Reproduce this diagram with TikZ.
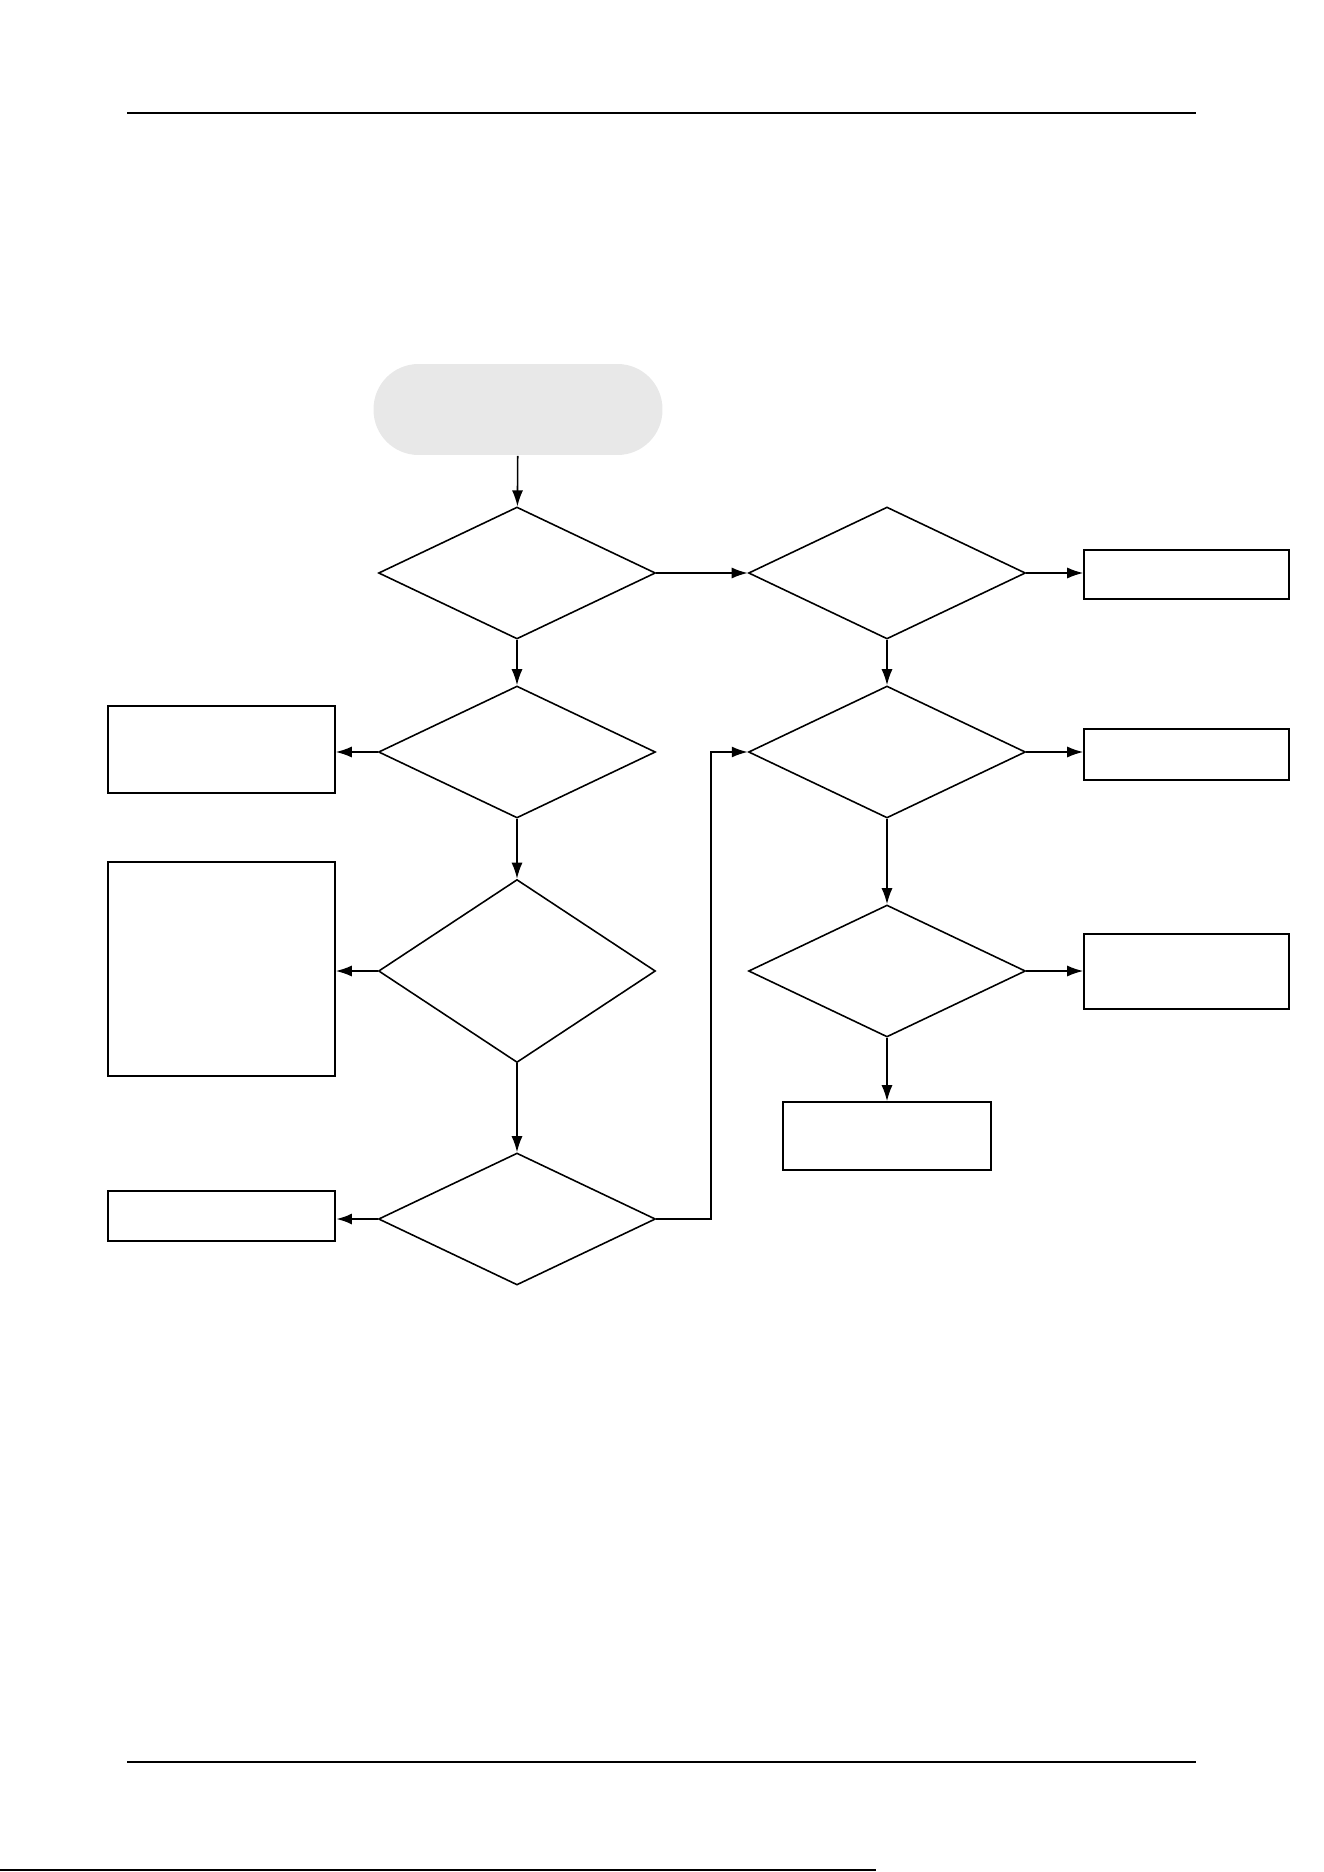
\documentclass[tikz,border=0pt]{standalone}
\usetikzlibrary{positioning,shapes.geometric,arrows.meta}
\definecolor{startgray}{RGB}{232,232,232}
\tikzstyle{decision}=[draw,diamond,inner sep=0pt,minimum width=5.54cm,minimum height=2.64cm]
\tikzstyle{block}=[draw,rectangle,inner sep=0pt]
\tikzstyle{terminal}=[fill=startgray,rectangle,rounded corners=0.9cm,inner sep=0pt]
\tikzstyle{rule}=[line width=1.5pt]
\newcommand{\newDecision}[3]{\node[decision,#3](#1) at (#2){};}
\newcommand{\newBlock}[4]{\node[block,minimum width=#3,minimum height=#4](#1) at (#2){};}
\newcommand{\newArrow}[2]{\draw[->] (#1) -- (#2);}
\newcommand{\newSideArrow}[3]{\draw[->,#3] (#1) -- (#1 -| #2);}
\begin{document}
\begin{tikzpicture}[x=0.02cm,y=-0.02cm,
      >={Latex[length=0.32cm,width=0.22cm]},
      line width=0.9pt
      ]
      \useasboundingbox (0,0) rectangle (1324,1872);
      % page rules
      \draw[rule] (127,113) -- (1196,113);
      \draw[rule] (127,1762) -- (1196,1762);
      \draw[line width=1.2pt] (0,1870) -- (876,1870);
      % start
      \node[terminal,minimum width=5.78cm,minimum height=1.82cm](start) at (518,409.5){};
      % left column
      \newDecision{d1}{517,573}{}
      \newDecision{d3}{517,752}{}
      \newDecision{d4}{517,971}{minimum height=3.66cm}
      \newDecision{d5}{517,1219}{}
      \newBlock{l1}{221.5,749.5}{4.54cm}{1.74cm}
      \newBlock{l2}{221.5,969}{4.54cm}{4.28cm}
      \newBlock{l3}{221.5,1216}{4.54cm}{1.0cm}
      % right column
      \newDecision{d2}{887,573}{}
      \newDecision{d6}{887,752}{}
      \newDecision{d7}{887,971}{}
      \newBlock{r1}{1186.5,574.5}{4.1cm}{0.98cm}
      \newBlock{r2}{1186.5,754.5}{4.1cm}{1.02cm}
      \newBlock{r3}{1186.5,971.5}{4.1cm}{1.5cm}
      \newBlock{b1}{887,1136}{4.16cm}{1.36cm}
      % arrows
      \newArrow{start}{d1}
      \newArrow{d1}{d2}
      \newSideArrow{d2.east}{r1.west}{}
      \newArrow{d1}{d3}
      \newSideArrow{d3.west}{l1.east}{}
      \newArrow{d3}{d4}
      \newSideArrow{d4.west}{l2.east}{}
      \newArrow{d4}{d5}
      \newSideArrow{d5.west}{l3.east}{line width=1.6pt}
      \newArrow{d2}{d6}
      \newSideArrow{d6.east}{r2.west}{}
      \newArrow{d6}{d7}
      \newSideArrow{d7.east}{r3.west}{}
      \newArrow{d7}{b1}
      \coordinate (turn) at (711,1219);
      \draw[->] (d5.east) -- (turn) |- (d6.west);
    \end{tikzpicture}
\end{document}
